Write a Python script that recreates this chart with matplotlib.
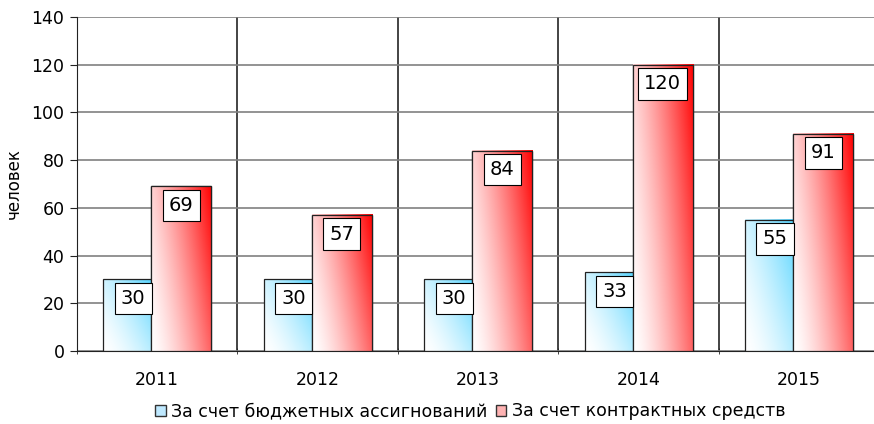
import matplotlib.pyplot as plt
import matplotlib.patches as mpatches
import numpy as np

years = ["2011", "2012", "2013", "2014", "2015"]
budget = [30, 30, 30, 33, 55]
contract = [69, 57, 84, 120, 91]
series_names = ["За счет бюджетных ассигнований", "За счет контрактных средств"]

plt.rcParams["font.family"] = "DejaVu Sans"

fig = plt.figure(figsize=(8.74, 4.24), dpi=100)
ax = fig.add_axes([0.0881, 0.172, 0.918, 0.788])

x = np.arange(len(years))
width = 0.374
offset = 0.15


def gradient_fill(x0, w, h, color, wx, wy, power, z):
    # white in the bottom-left corner, full colour towards the top-right
    gx, gy = np.meshgrid(np.linspace(0, 1, 80), np.linspace(0, 1, 80))
    t = ((wx * gx + wy * gy) / (wx + wy)) ** power
    img = (1 - t)[..., None] * np.ones(3) + t[..., None] * np.array(color)
    ax.imshow(img, extent=[x0, x0 + w, 0, h], origin="lower", aspect="auto",
              zorder=z, interpolation="bilinear")


blue_bars = ax.bar(x - offset, budget, width, facecolor="none",
                   edgecolor="#222222", linewidth=0.9, zorder=3)
for b in blue_bars:
    gradient_fill(b.get_x(), b.get_width(), b.get_height(),
                  (0.2, 0.8, 1.0), 1.0, 0.6, 1.5, 2)

# red bars overlap the blue ones and sit on top of them
red_bars = ax.bar(x + offset, contract, width, facecolor="white",
                  edgecolor="#222222", linewidth=0.9, zorder=3.5)
red_edges = ax.bar(x + offset, contract, width, facecolor="none",
                   edgecolor="#222222", linewidth=0.9, zorder=4)
for b in red_bars:
    gradient_fill(b.get_x(), b.get_width(), b.get_height(),
                  (1.0, 0.0, 0.0), 1.0, 0.4, 1.4, 3.7)

box = dict(boxstyle="square,pad=0.32", facecolor="white", edgecolor="black", linewidth=0.8)
for xi, v in zip(x - offset, budget):
    ax.text(xi, v - 8, str(v), ha="center", va="center", fontsize=14,
            bbox=box, zorder=6)
for xi, v in zip(x + offset, contract):
    ax.text(xi, v - 8, str(v), ha="center", va="center", fontsize=14,
            bbox=box, zorder=6)

ax.set_xlim(-0.5, 4.5)
ax.set_ylim(0, 140)
ax.set_yticks(range(0, 141, 20))
ax.set_xticks(x)
ax.set_xticklabels(years)
ax.set_xticks(np.arange(-0.5, 5, 1), minor=True)
ax.tick_params(axis="x", which="major", length=0, pad=14, labelsize=12.5)
ax.tick_params(axis="x", which="minor", length=5, direction="inout", color="#222222")
ax.tick_params(axis="y", length=5, direction="out", color="#222222", labelsize=12.5, pad=4)

ax.grid(True, axis="y", color="#808080", linewidth=1.2, zorder=0)
ax.grid(True, axis="x", which="minor", color="#111111", linewidth=1.1, zorder=0)
ax.set_axisbelow(True)
for s in ["top", "right"]:
    ax.spines[s].set_visible(False)
ax.spines["left"].set_color("#222222")
ax.spines["bottom"].set_color("#222222")

ax.set_ylabel("человек", fontsize=12, labelpad=6)

handles = [
    mpatches.Patch(facecolor="#bfe9ff", edgecolor="#333333", label=series_names[0]),
    mpatches.Patch(facecolor="#ffb3b3", edgecolor="#333333", label=series_names[1]),
]
fig.legend(handles=handles, loc="center", bbox_to_anchor=(0.538, 0.03), ncol=2,
           frameon=False, fontsize=12.5, handlelength=0.6, handleheight=0.6,
           handletextpad=0.3, columnspacing=0.5)

fig.savefig("out.png", dpi=100)
